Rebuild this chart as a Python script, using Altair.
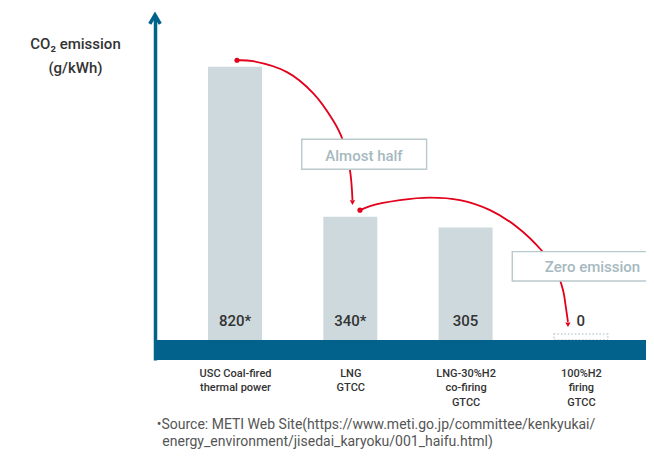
import json
import altair as alt
import pandas as pd

# ---------------- data ----------------
categories = [
    ["USC Coal-fired", "thermal power"],
    ["LNG", "GTCC"],
    ["LNG-30%H2", "co-firing", "GTCC"],
    ["100%H2", "firing", "GTCC"],
]
emissions = [820, 340, 305, 0]
emission_labels = ["820*", "340*", "305", "0"]
y_title = ["CO\u2082 emission", "(g/kWh)"]
callout_texts = ["Almost half", "Zero emission"]
source_lines = [
    "\u2022Source: METI Web Site(https://www.meti.go.jp/committee/kenkyukai/",
    "energy_environment/jisedai_karyoku/001_haifu.html)",
]

# annotation geometry (data units: x = category index, y = g/kWh)
arrow1_x = [0.017, 0.156, 0.451, 0.677, 0.850, 0.928, 0.997, 1.019]
arrow1_y = [841, 838, 803, 736, 649, 592, 489, 393]
arrow2_x = [1.084, 1.171, 1.431, 1.691, 1.951, 2.212, 2.446, 2.671, 2.784, 2.845, 2.871, 2.888]
arrow2_y = [361, 374, 393, 401, 393, 361, 307, 227, 169, 105, 47, 3]
arrow_tip_x = [1.019, 2.888]
arrow_tip_y = [385, -6]
box_x = [0.579, 2.405]
box_x2 = [1.662, 3.75]
box_y = [588, 228]
box_y2 = [492, 134]
box_text_x = [1.119, 3.101]
box_text_y = [535, 178]

# ---------------- layout / style ----------------
X_MIN, X_MAX = -0.694, 3.565
Y_MIN, Y_MAX = -119, 986
FOOT = -55          # top of the base band (bars stand on it)
EMPTY_TOP = -36     # top of dotted outline for empty bar
HALF = 0.234        # half bar width in index units
W, H = 491, 345

BLUE = "#03628b"
BAR = "#cdd9dd"
RED = "#e2001a"
BOX_STROKE = "#b9c9ce"
BOX_TEXT = "#a6b9c0"
DARK = "#333333"
FONT = "Roboto"

XS = alt.Scale(domain=[X_MIN, X_MAX], nice=False, zero=False)
YS = alt.Scale(domain=[Y_MIN, Y_MAX], nice=False, zero=False)

label_expr = json.dumps(categories) + "[datum.value]"
x_axis = alt.Axis(
    values=[0, 1, 2, 3], labelExpr=label_expr, domain=False, ticks=False, grid=False,
    title=None, labelFontSize=11, labelFontWeight=500, labelColor=DARK, labelFont=FONT,
    labelBaseline="top", labelPadding=7, labelLineHeight=14.5, labelFlush=False,
    labelOverlap=False, labelBound=False, labelAlign="center",
)
y_axis = alt.Axis(
    domain=True, domainColor=BLUE, domainWidth=3.5, ticks=False, labels=False, grid=False,
    title=y_title, titleAngle=0, titleAlign="center", titleBaseline="top",
    titleX=-80, titleY=21, titleFontSize=15, titleFontWeight=500, titleColor=DARK,
    titleFont=FONT, titleLineHeight=24,
)


def X(f="x"):
    return alt.X(f, type="quantitative", scale=XS, axis=x_axis)


def Y(f="y"):
    return alt.Y(f, type="quantitative", scale=YS, axis=y_axis)


idx = list(range(len(emissions)))
bars = pd.DataFrame({
    "x": [i - HALF for i in idx],
    "x2": [i + HALF for i in idx],
    "y": emissions,
    "y2": [FOOT] * len(idx),
})
labels_df = pd.DataFrame({"x": idx, "y": [0] * len(idx), "label": emission_labels})
band_df = pd.DataFrame({"x": [X_MIN], "x2": [X_MAX], "y": [FOOT], "y2": [Y_MIN]})
empty_df = bars[bars["y"] == 0].assign(y=EMPTY_TOP)
solid_df = bars[bars["y"] > 0]

arrows = pd.DataFrame({
    "x": arrow1_x + arrow2_x,
    "y": arrow1_y + arrow2_y,
    "id": ["a"] * len(arrow1_x) + ["b"] * len(arrow2_x),
    "order": list(range(len(arrow1_x))) + list(range(len(arrow2_x))),
})
starts = pd.DataFrame({"x": [arrow1_x[0], arrow2_x[0]], "y": [arrow1_y[0], arrow2_y[0]]})
tips = pd.DataFrame({"x": arrow_tip_x, "y": arrow_tip_y})
boxes = pd.DataFrame({"x": box_x, "x2": box_x2, "y": box_y, "y2": box_y2})
box_texts = pd.DataFrame({"x": box_text_x, "y": box_text_y, "t": callout_texts})
corner = pd.DataFrame({"x": [X_MIN], "y": [Y_MAX]})
src_df = pd.DataFrame({"t": source_lines})

band = alt.Chart(band_df).mark_rect(color=BLUE).encode(
    x=X(), x2="x2:Q", y=Y(), y2="y2:Q")
bar_layer = alt.Chart(solid_df).mark_rect(color=BAR).encode(
    x=X(), x2="x2:Q", y=Y(), y2="y2:Q")
empty_layer = alt.Chart(empty_df).mark_rect(
    fillOpacity=0, stroke="#c3cfd4", strokeWidth=1.5, strokeDash=[1.5, 2]
).encode(x=X(), x2="x2:Q", y=Y(), y2="y2:Q")
value_text = alt.Chart(labels_df).mark_text(
    font=FONT, fontSize=15, fontWeight=500, color=DARK, baseline="middle", dy=-2
).encode(x=X(), y=Y(), text="label:N")
arrow_lines = alt.Chart(arrows).mark_line(
    color=RED, strokeWidth=1.8, interpolate="catmull-rom"
).encode(x=X(), y=Y(), detail="id:N", order="order:Q")
start_dots = alt.Chart(starts).mark_point(
    shape="circle", filled=True, size=26, color=RED, opacity=1
).encode(x=X(), y=Y())
tip_marks = alt.Chart(tips).mark_point(
    shape="triangle-down", filled=True, size=28, color=RED, opacity=1
).encode(x=X(), y=Y())
box_layer = alt.Chart(boxes).mark_rect(
    fill="white", stroke=BOX_STROKE, strokeWidth=1.4
).encode(x=X(), x2="x2:Q", y=Y(), y2="y2:Q")
box_text_layer = alt.Chart(box_texts).mark_text(
    font=FONT, fontSize=15, fontWeight=500, color=BOX_TEXT, baseline="middle"
).encode(x=X(), y=Y(), text="t:N")
chevron = alt.Chart(corner).mark_point(
    shape="M-1,1.7L0,0L1,1.7", size=110, filled=False, color=BLUE,
    strokeWidth=3.5, opacity=1, strokeJoin="miter"
).encode(x=X(), y=Y())
src1 = alt.Chart(src_df.iloc[[0]]).mark_text(
    font=FONT, fontSize=14, color="#555555", align="left", baseline="middle"
).encode(x=alt.value(1.7), y=alt.value(410), text="t:N")
src2 = alt.Chart(src_df.iloc[[1]]).mark_text(
    font=FONT, fontSize=14, color="#555555", align="left", baseline="middle"
).encode(x=alt.value(7.3), y=alt.value(427), text="t:N")

chart = alt.layer(
    bar_layer, empty_layer, band, value_text, arrow_lines, start_dots, tip_marks,
    box_layer, box_text_layer, chevron, src1, src2,
).properties(
    width=W, height=H,
    autosize=alt.AutoSizeParams(type="none"),
    padding={"left": 147, "top": 7, "right": 0, "bottom": 90},
    background="white",
).configure_view(strokeWidth=0)

chart.save("out.html", embed_options={"renderer": "svg", "actions": False})
